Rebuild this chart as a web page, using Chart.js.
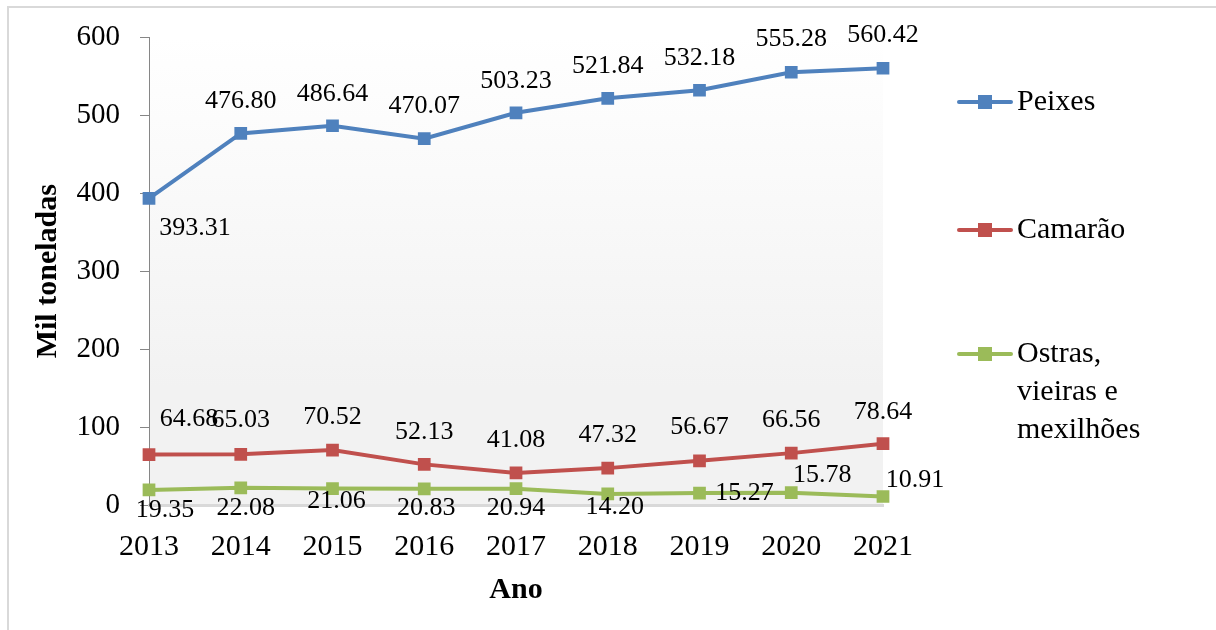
<!DOCTYPE html>
<html>
<head>
<meta charset="utf-8">
<script src="https://cdn.jsdelivr.net/npm/chart.js@4.4.0/dist/chart.umd.min.js"></script>
<style>
  html, body { margin: 0; padding: 0; background: #fff; }
  #wrap { width: 1216px; height: 630px; position: relative; }
</style>
</head>
<body>
<div id="wrap"><canvas id="c" width="1216" height="630"></canvas></div>
<script>
// data
var years = ['2013', '2014', '2015', '2016', '2017', '2018', '2019', '2020', '2021'];
var seriesNames = ['Peixes', 'Camarão', 'Ostras, vieiras e mexilhões'];
var peixes = [393.31, 476.80, 486.64, 470.07, 503.23, 521.84, 532.18, 555.28, 560.42];
var camarao = [64.68, 65.03, 70.52, 52.13, 41.08, 47.32, 56.67, 66.56, 78.64];
var ostras = [19.35, 22.08, 21.06, 20.83, 20.94, 14.20, 15.27, 15.78, 10.91];
var yTicks = [0, 100, 200, 300, 400, 500, 600];

// styling / placement
var colors = ['#4f81bd', '#c0504d', '#9bbb59'];
var legendLines = [['Peixes'], ['Camarão'], ['Ostras,', 'vieiras e', 'mexilhões']];
var legendY = [102, 230, 354];
// data label offsets (dx, dy) from each point
var labelOff = [
  [[46, 30], [0, -32], [0, -32], [0, -32], [0, -32], [0, -32], [0, -32], [0, -33], [0, -33]],
  [[40, -35], [0, -34], [0, -33], [0, -32], [0, -33], [0, -33], [0, -34], [0, -33], [0, -32]],
  [[16, 20], [5, 20], [4, 13], [2, 19], [0, 19], [7, 13], [45, 0], [31, -18], [32, -16]]
];
var FONT = '"Liberation Serif", "Times New Roman", serif';

var bgPlugin = {
  id: 'bg',
  beforeDraw: function(chart) {
    var ctx = chart.ctx, a = chart.chartArea;
    ctx.save();
    ctx.fillStyle = '#ffffff';
    ctx.fillRect(0, 0, chart.width, chart.height);
    ctx.strokeStyle = '#d9d9d9';
    ctx.lineWidth = 2;
    ctx.beginPath();
    ctx.moveTo(8, 630); ctx.lineTo(8, 7); ctx.lineTo(1216, 7);
    ctx.stroke();
    var g = ctx.createLinearGradient(0, a.top, 0, a.bottom);
    g.addColorStop(0, '#ffffff');
    g.addColorStop(0.75, '#f2f2f2');
    g.addColorStop(1, '#f2f2f2');
    ctx.fillStyle = g;
    ctx.fillRect(a.left, a.top, a.right - a.left, a.bottom - a.top);
    ctx.restore();
  }
};

var labelPlugin = {
  id: 'vals',
  afterDatasetsDraw: function(chart) {
    var ctx = chart.ctx;
    ctx.save();
    ctx.font = '26px ' + FONT;
    ctx.fillStyle = '#000';
    ctx.textAlign = 'center';
    ctx.textBaseline = 'middle';
    chart.data.datasets.forEach(function(ds, i) {
      var meta = chart.getDatasetMeta(i);
      meta.data.forEach(function(pt, j) {
        var o = labelOff[i][j];
        ctx.fillText(ds.data[j].toFixed(2), pt.x + o[0], pt.y + o[1]);
      });
    });
    ctx.restore();
  }
};

var legendPlugin = {
  id: 'sideLegend',
  afterDraw: function(chart) {
    var ctx = chart.ctx;
    ctx.save();
    chart.data.datasets.forEach(function(ds, i) {
      var y = legendY[i];
      ctx.strokeStyle = ds.borderColor;
      ctx.lineWidth = 4;
      ctx.lineCap = 'round';
      ctx.beginPath();
      ctx.moveTo(959, y); ctx.lineTo(1011, y);
      ctx.stroke();
      ctx.fillStyle = ds.borderColor;
      ctx.fillRect(978, y - 7, 14, 14);
      ctx.fillStyle = '#000';
      ctx.font = '30px ' + FONT;
      ctx.textAlign = 'left';
      ctx.textBaseline = 'middle';
      legendLines[i].forEach(function(t, k) {
        ctx.fillText(t, 1017, y + k * 38);
      });
    });
    ctx.restore();
  }
};

var datasets = [peixes, camarao, ostras].map(function(d, i) {
  return {
    label: seriesNames[i],
    data: d,
    borderColor: colors[i],
    backgroundColor: colors[i],
    borderWidth: 4,
    pointStyle: 'rect',
    pointRadius: 9,
    pointHoverRadius: 9,
    pointBorderWidth: 0,
    tension: 0
  };
});

new Chart(document.getElementById('c'), {
  type: 'line',
  data: { labels: years, datasets: datasets },
  options: {
    responsive: false,
    animation: false,
    events: [],
    layout: { padding: { top: 37, right: 333, left: 0, bottom: 0 } },
    plugins: { legend: { display: false }, tooltip: { enabled: false } },
    scales: {
      x: {
        offset: false,
        afterFit: function(s) { s.height = 125; },
        grid: { display: false },
        border: { display: true, color: '#d9d9d9', width: 3 },
        ticks: { color: '#000', font: { family: FONT, size: 30 }, padding: 16, maxRotation: 0 },
        title: { display: true, text: 'Ano', color: '#000', font: { family: FONT, size: 30, weight: 'bold' }, padding: { top: 0, bottom: 22 } }
      },
      y: {
        min: 0, max: 600,
        afterFit: function(s) { s.width = 149; },
        afterBuildTicks: function(s) { s.ticks = yTicks.map(function(v) { return { value: v }; }); },
        grid: { drawOnChartArea: false, drawTicks: true, tickLength: 9, color: '#868686' },
        border: { display: true, color: '#868686', width: 1 },
        ticks: { color: '#000', font: { family: FONT, size: 29 }, padding: 20 },
        title: { display: true, text: 'Mil toneladas', color: '#000', font: { family: FONT, size: 30, weight: 'bold' }, padding: { top: 30, bottom: 0 } }
      }
    }
  },
  plugins: [bgPlugin, labelPlugin, legendPlugin]
});
</script>
</body>
</html>
